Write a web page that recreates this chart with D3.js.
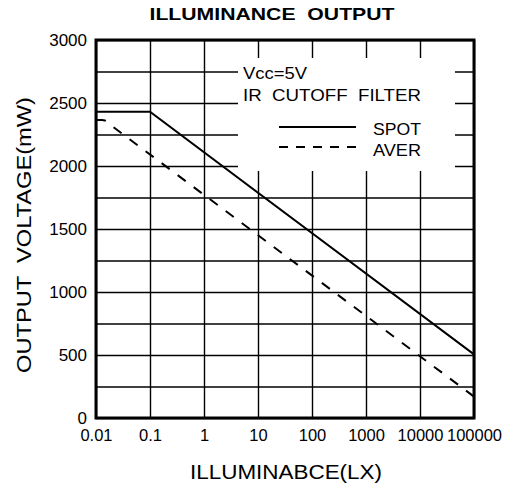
<!DOCTYPE html>
<html>
<head>
<meta charset="utf-8">
<script src="https://cdn.jsdelivr.net/npm/d3@7"></script>
<style>
  body { margin: 0; background: #fff; }
  text { font-family: "Liberation Sans", Arial, sans-serif; fill: #000; }
</style>
</head>
<body>
<div id="chart"></div>
<script>
// values
const xTicks = [0.01, 0.1, 1, 10, 100, 1000, 10000, 100000];
const xTickLabels = ["0.01", "0.1", "1", "10", "100", "1000", "10000", "100000"];
const yTicks = [0, 500, 1000, 1500, 2000, 2500, 3000];
const yGrid = d3.range(0, 3001, 250);

const spotLux = [0.01, 0.1, 100000];
const spotMv = [2430, 2430, 505];
const averLux = [0.01, 0.013, 0.0145, 0.016, 0.018, 100000];
const averMv = [2365, 2365, 2362, 2352, 2330, 170];

const width = 525, height = 492;
const margin = {top: 40, right: 51, bottom: 74, left: 96};

const svg = d3.select("#chart").append("svg")
    .attr("width", width)
    .attr("height", height);

const x = d3.scaleLog().domain([0.01, 100000]).range([margin.left, width - margin.right]);
const y = d3.scaleLinear().domain([0, 3000]).range([height - margin.bottom, margin.top]);
const plotW = x.range()[1] - x.range()[0],
      plotH = y.range()[0] - y.range()[1];

// grid
svg.append("g")
    .attr("transform", `translate(0,${y(0)})`)
    .call(d3.axisBottom(x).tickValues(xTicks).tickSize(-plotH).tickFormat(""))
    .call(g => g.select(".domain").remove())
    .selectAll("line").attr("stroke", "#000").attr("stroke-width", 1.4);

svg.append("g")
    .attr("transform", `translate(${x(0.01)},0)`)
    .call(d3.axisLeft(y).tickValues(yGrid).tickSize(-plotW).tickFormat(""))
    .call(g => g.select(".domain").remove())
    .selectAll("line").attr("stroke", "#000").attr("stroke-width", 1.4);

// white legend panel over the grid
svg.append("rect")
    .attr("x", 238).attr("y", 58)
    .attr("width", 217).attr("height", 113)
    .attr("fill", "#fff");

// frame
svg.append("rect")
    .attr("x", x(0.01)).attr("y", y(3000))
    .attr("width", plotW).attr("height", plotH)
    .attr("fill", "none").attr("stroke", "#000").attr("stroke-width", 3);

// tick labels
svg.append("g")
    .attr("transform", `translate(0,${y(0)})`)
    .call(d3.axisBottom(x).tickValues(xTicks).tickSize(0).tickPadding(11)
        .tickFormat((d, i) => xTickLabels[i]))
    .call(g => g.select(".domain").remove())
    .selectAll("text").attr("font-size", 16.5).attr("font-family", "Liberation Sans, Arial, sans-serif");

svg.append("g")
    .attr("transform", `translate(${x(0.01)},0)`)
    .call(d3.axisLeft(y).tickValues(yTicks).tickSize(0).tickPadding(9).tickFormat(d3.format("d")))
    .call(g => g.select(".domain").remove())
    .selectAll("text").attr("font-size", 17).attr("font-family", "Liberation Sans, Arial, sans-serif");

// curves
const line = d3.line().x(d => x(d[0])).y(d => y(d[1]));

svg.append("path")
    .datum(spotLux.map((v, i) => [v, spotMv[i]]))
    .attr("d", line)
    .attr("fill", "none").attr("stroke", "#000").attr("stroke-width", 2);

svg.append("path")
    .datum(averLux.map((v, i) => [v, averMv[i]]))
    .attr("d", line)
    .attr("fill", "none").attr("stroke", "#000").attr("stroke-width", 2)
    .attr("stroke-dasharray", "10,10");

// text stretched to the reference widths
function label(xp, yp, size, len, str) {
  return svg.append("text").attr("x", xp).attr("y", yp).attr("font-size", size)
      .attr("textLength", len).attr("lengthAdjust", "spacingAndGlyphs")
      .attr("xml:space", "preserve").text(str);
}

// legend
label(243, 79, 16.5, 64, "Vcc=5V");
label(243, 101, 16.5, 178, "IR  CUTOFF  FILTER");
label(373, 135, 16.5, 48, "SPOT");
label(373, 156, 16.5, 48, "AVER");

svg.append("line").attr("x1", 279).attr("x2", 356).attr("y1", 127).attr("y2", 127)
    .attr("stroke", "#000").attr("stroke-width", 2);
svg.append("line").attr("x1", 279).attr("x2", 356).attr("y1", 147).attr("y2", 147)
    .attr("stroke", "#000").attr("stroke-width", 2).attr("stroke-dasharray", "9,8");

// titles
label(272, 20, 17, 245, "ILLUMINANCE  OUTPUT")
    .attr("text-anchor", "middle").attr("font-weight", "bold");

label(286, 479, 19.5, 192, "ILLUMINABCE(LX)")
    .attr("text-anchor", "middle");

label(0, 0, 19.5, 276, "OUTPUT  VOLTAGE(mW)")
    .attr("transform", "translate(31,235) rotate(-90)")
    .attr("text-anchor", "middle");
</script>
</body>
</html>
